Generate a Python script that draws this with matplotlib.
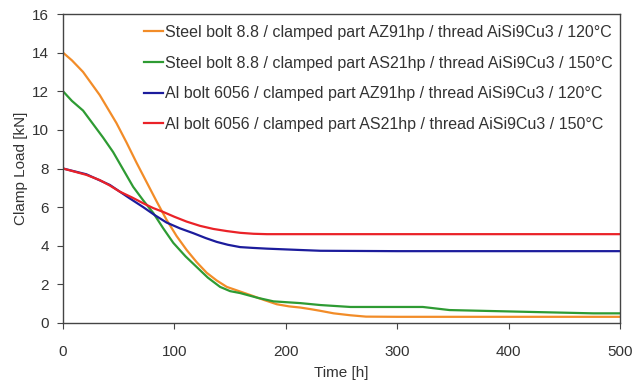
import matplotlib
matplotlib.use("Agg")
import matplotlib.pyplot as plt

plt.rcParams['font.family'] = ['Liberation Sans', 'DejaVu Sans']

# Data
t_orange = [0, 8, 18, 33, 48, 57, 66, 75, 84, 93, 102, 111, 120, 129, 138, 147, 158, 168, 180, 192, 203, 213, 222, 231, 243, 258, 272, 300, 400, 500]
v_orange = [14.0, 13.6, 13.0, 11.8, 10.35, 9.35, 8.3, 7.3, 6.3, 5.34, 4.5, 3.78, 3.15, 2.6, 2.2, 1.87, 1.65, 1.45, 1.2, 0.97, 0.86, 0.8, 0.72, 0.63, 0.5, 0.4, 0.33, 0.32, 0.32, 0.32]

t_green = [0, 8, 18, 27, 36, 45, 54, 63, 72, 81, 90, 99, 110, 120, 130, 141, 150, 159, 175, 189, 213, 231, 258, 323, 347, 422, 476, 500]
v_green = [12.0, 11.5, 11.0, 10.3, 9.6, 8.85, 7.95, 7.05, 6.35, 5.7, 4.9, 4.15, 3.45, 2.9, 2.35, 1.87, 1.65, 1.55, 1.3, 1.12, 1.03, 0.93, 0.83, 0.83, 0.67, 0.57, 0.5, 0.5]

t_blue = [0, 21, 42, 51, 60, 72, 82, 93, 105, 117, 128, 138, 148, 159, 170, 183, 213, 231, 300, 400, 500]
v_blue = [8.0, 7.7, 7.15, 6.8, 6.45, 6.0, 5.6, 5.2, 4.9, 4.65, 4.4, 4.2, 4.05, 3.93, 3.89, 3.85, 3.78, 3.74, 3.72, 3.72, 3.72]

t_red = [0, 21, 33, 42, 51, 62, 72, 81, 90, 100, 111, 123, 135, 147, 159, 171, 183, 230, 300, 400, 500]
v_red = [8.0, 7.67, 7.4, 7.12, 6.8, 6.5, 6.2, 5.95, 5.75, 5.5, 5.25, 5.03, 4.87, 4.76, 4.67, 4.62, 4.6, 4.6, 4.6, 4.6, 4.6]

labels = [
    "Steel bolt 8.8 / clamped part AZ91hp / thread AiSi9Cu3 / 120°C",
    "Steel bolt 8.8 / clamped part AS21hp / thread AiSi9Cu3 / 150°C",
    "Al bolt 6056 / clamped part AZ91hp / thread AiSi9Cu3 / 120°C",
    "Al bolt 6056 / clamped part AS21hp / thread AiSi9Cu3 / 150°C",
]
x_ticks = [0, 100, 200, 300, 400, 500]
y_ticks = [0, 2, 4, 6, 8, 10, 12, 14, 16]

fig = plt.figure(figsize=(6.39, 3.85), dpi=100)
ax = fig.add_axes([63/639, (385-323)/385, (620-63)/639, (323-14)/385])

lw = 1.6
ax.plot(t_orange, v_orange, color='#f28c28', lw=lw, label=labels[0])
ax.plot(t_green, v_green, color='#2e9b33', lw=lw, label=labels[1])
ax.plot(t_blue, v_blue, color='#1c1c9c', lw=lw, label=labels[2])
ax.plot(t_red, v_red, color='#ea2228', lw=lw, label=labels[3])

ax.set_xlim(0, 500)
ax.set_ylim(0, 16)
ax.set_xticks(x_ticks)
ax.set_yticks(y_ticks)
tc = '#333333'
for s in ax.spines.values():
    s.set_color('#444444')
    s.set_linewidth(1.0)
ax.tick_params(axis='x', direction='out', length=4, pad=12, labelsize=11, colors='#444444', labelcolor=tc)
ax.tick_params(axis='y', direction='out', length=4, pad=6, labelsize=11, colors='#444444', labelcolor=tc)
ax.set_xlabel('Time [h]', fontsize=11, color=tc, labelpad=5)
ax.set_ylabel('Clamp Load [kN]', fontsize=11, color=tc, labelpad=3)

leg = ax.legend(loc='upper right', bbox_to_anchor=(0.998, 0.985), frameon=False, fontsize=11.5,
                handlelength=1.2, handletextpad=0.1, labelspacing=0.98, borderaxespad=0.0)
for txt in leg.get_texts():
    txt.set_color(tc)

fig.savefig('out.png', dpi=100)
